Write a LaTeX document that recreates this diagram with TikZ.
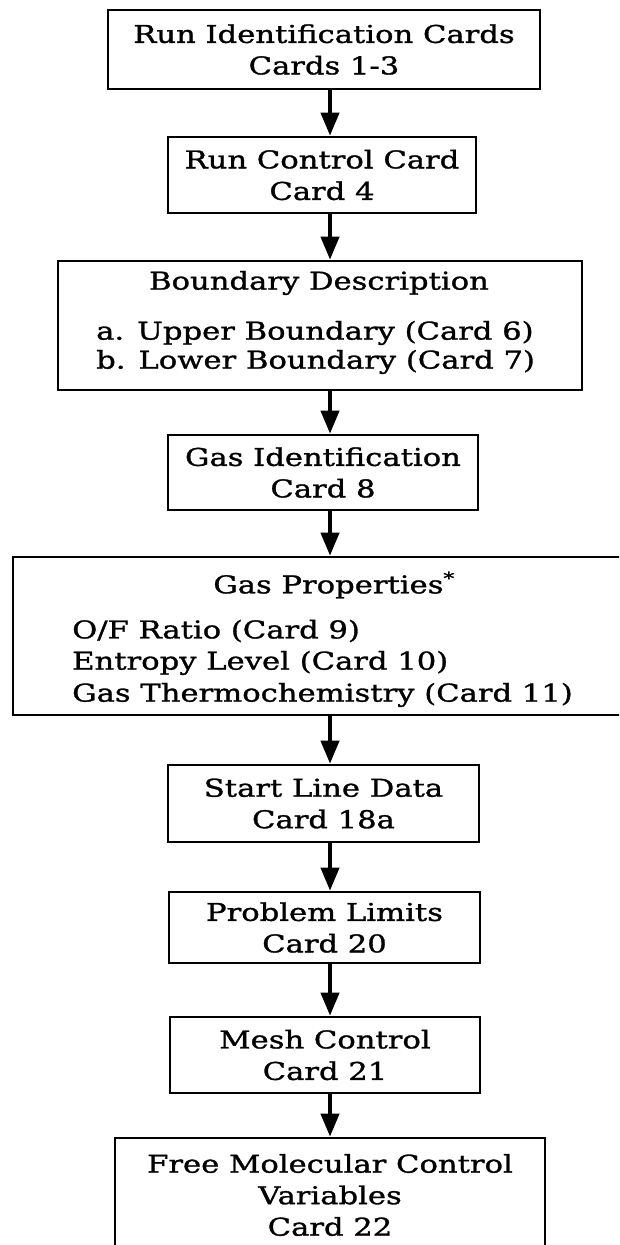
\documentclass[tikz,border=0pt]{standalone}
\usepackage{fontspec}
\setmainfont{DejaVu Serif}[FakeStretch=1.25,FakeBold=1.2]
\usetikzlibrary{arrows.meta}
\tikzset{
  card/.style={draw, line width=2.6pt, inner sep=0pt, align=center,
    font=\fontsize{24.5}{31.5}\selectfont},
  plainbox/.style={draw, line width=2.6pt, inner sep=0pt},
  txt/.style={inner sep=0pt, font=\fontsize{24.5}{31.5}\selectfont},
  flow/.style={line width=4pt, -{Triangle[length=23pt,width=18pt]}},
}
\begin{document}
\begin{tikzpicture}[x=1pt,y=-1pt]
\useasboundingbox (0,0) rectangle (619,1245);
\clip (0,0) rectangle (619,1245);
\coordinate (ax) at (330,0);

\node[card, minimum width=432pt, minimum height=79pt] (b1) at (324,49.5)
  {Run Identification Cards\\Cards 1-3};
\node[card, minimum width=308pt, minimum height=76pt] (b2) at (322,175)
  {Run Control Card\\Card 4};
\node[plainbox, minimum width=524pt, minimum height=129pt] (b3) at (320,325.5) {};
\node[txt] (b3h) at (319,283) {Boundary Description};
\node[txt, anchor=west] (b3a) at (96,333) {a. Upper Boundary (Card 6)};
\node[txt, anchor=west] (b3b) at (96,362) {b. Lower Boundary (Card 7)};
\node[card, minimum width=310pt, minimum height=75pt] (b4) at (323,472.5)
  {Gas Identification\\Card 8};
\node[plainbox, minimum width=627pt, minimum height=158pt] (b5) at (326.5,636) {};
\node[txt] (b5h) at (334,585) {Gas Properties\textsuperscript{*}};
\node[txt, anchor=west] (b5a) at (72,631) {O/F Ratio (Card 9)};
\node[txt, anchor=west] (b5b) at (72,663) {Entropy Level (Card 10)};
\node[txt, anchor=west] (b5c) at (72,695) {Gas Thermochemistry (Card 11)};
\node[card, minimum width=311pt, minimum height=77pt] (b6) at (323.5,803.5)
  {Start Line Data\\Card 18a};
\node[card, minimum width=311pt, minimum height=71pt] (b7) at (324.5,927.5)
  {Problem Limits\\Card 20};
\node[card, minimum width=310pt, minimum height=76pt] (b8) at (325,1055)
  {Mesh Control\\Card 21};
\node[card, minimum width=430pt, minimum height=114pt] (b9) at (330,1195)
  {Free Molecular Control\\Variables\\Card 22};

\draw[flow] (b1.south -| ax) -- (b2.north -| ax);
\draw[flow] (b2.south -| ax) -- (b3.north -| ax);
\draw[flow] (b3.south -| ax) -- (b4.north -| ax);
\draw[flow] (b4.south -| ax) -- (b5.north -| ax);
\draw[flow] (b5.south -| ax) -- (b6.north -| ax);
\draw[flow] (b6.south -| ax) -- (b7.north -| ax);
\draw[flow] (b7.south -| ax) -- (b8.north -| ax);
\draw[flow] (b8.south -| ax) -- (b9.north -| ax);
\end{tikzpicture}
\end{document}
